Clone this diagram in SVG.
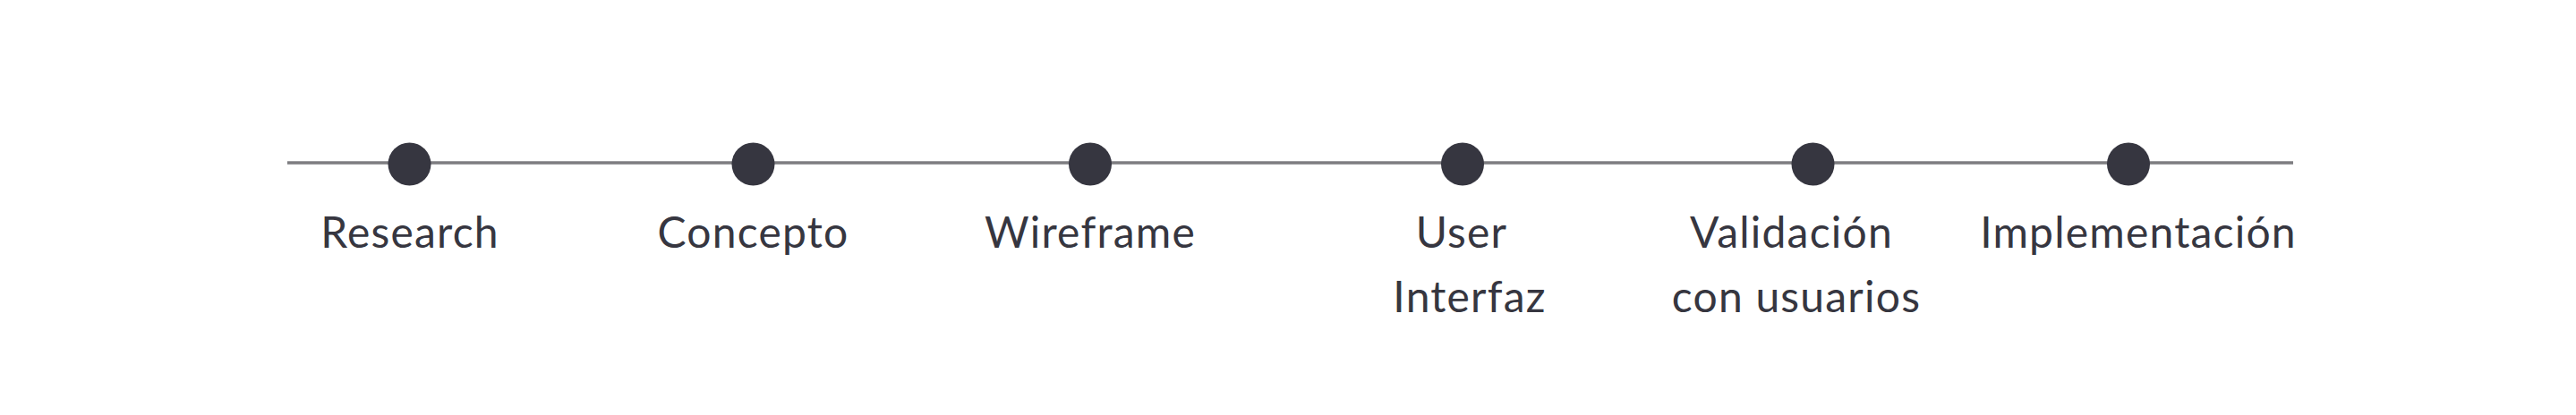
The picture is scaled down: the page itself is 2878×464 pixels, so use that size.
<svg xmlns="http://www.w3.org/2000/svg" width="2878" height="464" viewBox="0 0 2878 464">
<style>
.dot{fill:#363640}
.lbl{font-family:Lato,"Noto Sans",sans-serif;font-size:48px;letter-spacing:1.2px;fill:#363640;text-anchor:middle}
.conn{stroke:#7d7c80;stroke-width:3.5;fill:none}
</style>
<rect width="2878" height="464" fill="#ffffff"/>
<g id="connectors">
<line class="conn" x1="321" y1="182" x2="2562" y2="182"/>
</g>
<g id="n1"><circle class="dot" cx="457.5" cy="183.5" r="24"/><text class="lbl" x="458" y="277">Research</text></g>
<g id="n2"><circle class="dot" cx="841.5" cy="183.5" r="24"/><text class="lbl" x="841.5" y="277">Concepto</text></g>
<g id="n3"><circle class="dot" cx="1218" cy="183.5" r="24"/><text class="lbl" x="1218" y="277">Wireframe</text></g>
<g id="n4"><circle class="dot" cx="1634" cy="183.5" r="24"/><text class="lbl" x="1633" y="277">User</text><text class="lbl" x="1642" y="349">Interfaz</text></g>
<g id="n5"><circle class="dot" cx="2025.5" cy="183.5" r="24"/><text class="lbl" x="2001.5" y="277">Validación</text><text class="lbl" x="2007" y="349">con usuarios</text></g>
<g id="n6"><circle class="dot" cx="2378" cy="183.5" r="24"/><text class="lbl" x="2389" y="277">Implementación</text></g>
</svg>
